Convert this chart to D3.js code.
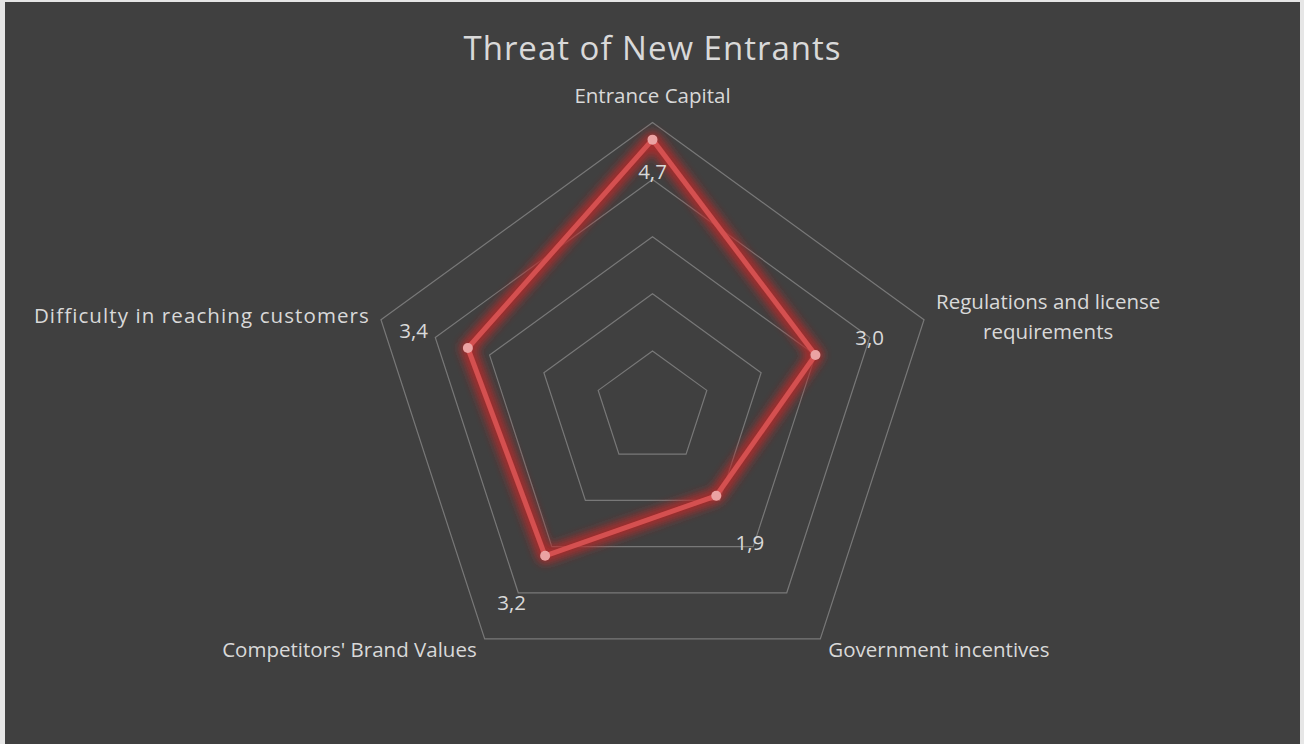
<!DOCTYPE html>
<html>
<head>
<meta charset="utf-8">
<script src="https://cdn.jsdelivr.net/npm/d3@7"></script>
<style>
  html, body { margin: 0; padding: 0; background: #ffffff; }
  svg { display: block; }
</style>
</head>
<body>
<svg id="chart" width="1304" height="744"></svg>
<script>
// ---- data ----
const title = "Threat of New Entrants";
const categories = [
  "Entrance Capital",
  "Regulations and license requirements",
  "Government incentives",
  "Competitors' Brand Values",
  "Difficulty in reaching customers"
];
const categoryLines = [
  ["Entrance Capital"],
  ["Regulations and license", "requirements"],
  ["Government incentives"],
  ["Competitors' Brand Values"],
  ["Difficulty in reaching customers"]
];
const values = [4.7, 3.0, 1.9, 3.2, 3.4];
const gridLevels = [1, 2, 3, 4, 5];

// ---- layout ----
const W = 1304, H = 744;
const cx = 652.5, cy = 408, R = 285.5;
const font = "'Open Sans', 'Noto Sans', sans-serif";
const textColor = "#d9d9d9";
const labelSize = 20.5;

const svg = d3.select("#chart");

// frame
svg.append("rect").attr("x", 0).attr("y", 0).attr("width", W).attr("height", H).attr("fill", "#e6e6e6");
svg.append("rect").attr("x", 5).attr("y", 2).attr("width", 1295).attr("height", H - 2).attr("fill", "#404040");

const rScale = d3.scaleLinear().domain([0, 5]).range([0, R]);
const angle = d3.scalePoint().domain(d3.range(categories.length)).range([0, 2 * Math.PI * (categories.length - 1) / categories.length]);

function pt(i, v) {
  const a = angle(i) - Math.PI / 2;
  return [cx + rScale(v) * Math.cos(a), cy + rScale(v) * Math.sin(a)];
}

// defs: glow
const defs = svg.append("defs");
const f = defs.append("filter").attr("id", "glow").attr("x", "-20%").attr("y", "-20%").attr("width", "140%").attr("height", "140%");
f.append("feGaussianBlur").attr("stdDeviation", 4.5);

// grid
const g = svg.append("g");
const lineGen = d3.line().curve(d3.curveLinearClosed);
gridLevels.forEach(l => {
  g.append("path")
    .attr("d", lineGen(categories.map((c, i) => pt(i, l))))
    .attr("fill", "none")
    .attr("stroke", "#787878")
    .attr("stroke-width", 1.2);
});

// title
svg.append("text")
  .attr("x", cx).attr("y", 47)
  .attr("text-anchor", "middle").attr("dominant-baseline", "central")
  .attr("font-family", font).attr("font-size", 33)
  .attr("letter-spacing", 1)
  .attr("fill", textColor)
  .text(title);

// axis labels
const maxV = d3.max(gridLevels);
categoryLines.forEach((lines, i) => {
  const [vx, vy] = pt(i, maxV);
  const a = angle(i) - Math.PI / 2;
  const cosA = Math.cos(a), sinA = Math.sin(a);
  const t = svg.append("text")
    .attr("font-family", font).attr("font-size", labelSize)
    .attr("fill", textColor)
    .attr("dominant-baseline", "central");
  const lh = 30;
  lines.forEach((ln, k) => {
    t.append("tspan").text(ln).attr("data-k", k);
  });
  let x, y, anchor;
  if (Math.abs(cosA) < 0.01) {           // top
    anchor = "middle"; x = vx; y = vy - 28;
  } else if (sinA < 0 && cosA > 0) {      // upper right
    const widths = [];
    t.selectAll("tspan").each(function () { widths.push(this.getComputedTextLength()); });
    anchor = "middle"; x = vx + 12 + d3.max(widths) / 2; y = vy - 4;
  } else if (sinA < 0 && cosA < 0) {     // upper left
    anchor = "end"; x = vx - 11; y = vy - 5;
    t.attr("letter-spacing", 1.1);
  } else if (cosA > 0) {                  // lower right
    anchor = "start"; x = vx + 8; y = vy + 10;
  } else {                                // lower left
    anchor = "end"; x = vx - 8; y = vy + 10;
  }
  const y0 = y - (lines.length - 1) * lh / 2;
  t.attr("text-anchor", anchor);
  t.selectAll("tspan").attr("x", x).attr("y", (d, k, nodes) => y0 + (+nodes[k].getAttribute("data-k")) * lh);
});

// series
const seriesPts = values.map((v, i) => pt(i, v));
svg.append("path")
  .attr("d", lineGen(seriesPts))
  .attr("fill", "none")
  .attr("stroke", "#b52a2a")
  .attr("stroke-opacity", 0.85)
  .attr("stroke-width", 16)
  .attr("stroke-linejoin", "round")
  .attr("filter", "url(#glow)");
svg.append("path")
  .attr("d", lineGen(seriesPts))
  .attr("fill", "none")
  .attr("stroke", "#d45050")
  .attr("stroke-width", 5)
  .attr("stroke-linejoin", "round");
svg.selectAll("circle.m").data(seriesPts).enter().append("circle")
  .attr("class", "m")
  .attr("cx", d => d[0]).attr("cy", d => d[1]).attr("r", 5)
  .attr("fill", "#eba3a3");

// value labels
const fmt = v => d3.format(".1f")(v).replace(".", ",");
values.forEach((v, i) => {
  const lr = (v + 1 <= maxV) ? v + 1 : v - 0.55;
  const [x, y] = pt(i, lr);
  svg.append("text")
    .attr("x", x).attr("y", y)
    .attr("text-anchor", "middle").attr("dominant-baseline", "central")
    .attr("font-family", font).attr("font-size", labelSize)
    .attr("fill", textColor)
    .text(fmt(v));
});
</script>
</body>
</html>
